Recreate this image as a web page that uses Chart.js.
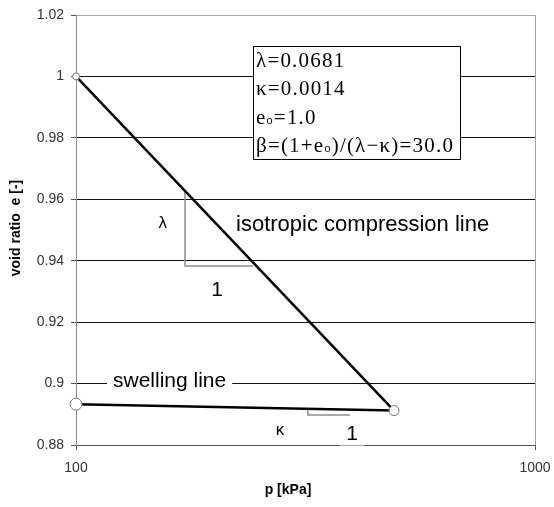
<!DOCTYPE html>
<html>
<head>
<meta charset="utf-8">
<script src="https://cdn.jsdelivr.net/npm/chart.js@4"></script>
<style>
  html, body { margin: 0; padding: 0; background: #fff; }
  #wrap { width: 554px; height: 507px; }
</style>
</head>
<body>
<div id="wrap"><canvas id="chart"></canvas></div>
<script>
// e - log p data: isotropic compression and swelling lines
const pressure = [100, 493];
const compressionE = [1.0, 0.8912];
const swellingE = [0.8933, 0.8912];

// slope triangles (lambda on the compression line, kappa on the swelling line)
const lambdaP = [172.8, 172.8, 243];
const lambdaE = [0.9627, 0.9383, 0.9383];
const kappaP = [320, 320, 395];
const kappaE = [0.8918, 0.8898, 0.8898];

const yTicks = [0.88, 0.9, 0.92, 0.94, 0.96, 0.98, 1.0, 1.02];
const xTicks = [100, 1000];

// parameter box, '°' marks the small subscript ring
const paramLines = ['λ=0.0681', 'κ=0.0014', 'e°=1.0', 'β=(1+e°)/(λ−κ)=30.0'];

const SANS = '"Liberation Sans", Arial, sans-serif';
const SERIF = '"Liberation Serif", "Times New Roman", serif';

const notes = [
  { text: 'isotropic compression line', p: 223.2, e: 0.9516, size: 22, align: 'left' },
  { text: 'swelling line', p: 120.4, e: 0.9008, size: 21, align: 'left', bg: true },
  { text: 'λ', p: 154.6, e: 0.9523, size: 17, align: 'center' },
  { text: '1', p: 202.9, e: 0.9305, size: 21, align: 'center' },
  { text: 'κ', p: 278.2, e: 0.8849, size: 17, align: 'center' },
  { text: '1', p: 399.3, e: 0.8836, size: 21, align: 'center', bg: true }
];
const paramBox = { p0: 243, p1: 686, e0: 1.0099, e1: 0.9731 };

function pts(xs, ys) {
  return xs.map((x, i) => ({ x: x, y: ys[i] }));
}

const annotate = {
  id: 'annotate',
  beforeDatasetsDraw(chart) {
    const ctx = chart.ctx;
    const sx = chart.scales.x, sy = chart.scales.y;
    ctx.save();

    // labels, some on a white patch over the grid
    notes.forEach(n => {
      const x = sx.getPixelForValue(n.p), y = sy.getPixelForValue(n.e);
      ctx.font = n.size + 'px ' + SANS;
      ctx.textAlign = n.align;
      ctx.textBaseline = 'middle';
      if (n.bg) {
        const w = ctx.measureText(n.text).width;
        const left = n.align === 'center' ? x - w / 2 : x;
        ctx.fillStyle = '#fff';
        ctx.fillRect(left - 6, y - n.size * 0.55, w + 12, n.size * 1.1);
      }
      ctx.fillStyle = '#000';
      ctx.fillText(n.text, x, y);
    });

    // parameter box
    const bx0 = sx.getPixelForValue(paramBox.p0), bx1 = sx.getPixelForValue(paramBox.p1);
    const by0 = sy.getPixelForValue(paramBox.e0), by1 = sy.getPixelForValue(paramBox.e1);
    ctx.fillStyle = '#fff';
    ctx.fillRect(bx0, by0, bx1 - bx0, by1 - by0);
    ctx.strokeStyle = '#000';
    ctx.lineWidth = 1;
    ctx.strokeRect(Math.round(bx0) + 0.5, Math.round(by0) + 0.5, Math.round(bx1 - bx0), Math.round(by1 - by0));

    const rowH = (by1 - by0) / paramLines.length;
    ctx.textAlign = 'left';
    ctx.textBaseline = 'alphabetic';
    ctx.fillStyle = '#000';
    ctx.letterSpacing = '1.2px';
    paramLines.forEach((line, i) => {
      let x = bx0 + 3;
      const base = by0 + rowH * (i + 0.5) + 7;
      line.split('°').forEach((part, j) => {
        if (j > 0) {
          ctx.font = '11px ' + SANS;
          ctx.fillText('o', x, base);
          x += ctx.measureText('o').width;
        }
        ctx.font = '21px ' + SERIF;
        ctx.fillText(part, x, base);
        x += ctx.measureText(part).width;
      });
    });
    ctx.letterSpacing = '0px';
    ctx.restore();
  },
  afterDraw(chart) {
    const ctx = chart.ctx;
    ctx.save();
    ctx.fillStyle = '#000';
    ctx.font = 'bold 14px ' + SANS;
    ctx.textAlign = 'center';
    ctx.textBaseline = 'middle';
    ctx.fillText('p [kPa]', 288, 490);
    ctx.translate(16, 228);
    ctx.rotate(-Math.PI / 2);
    ctx.fillText('void ratio  e [-]', 0, 0);
    ctx.restore();
  }
};

new Chart(document.getElementById('chart'), {
  type: 'line',
  data: {
    datasets: [
      {
        label: 'isotropic compression line',
        data: pts(pressure, compressionE),
        borderColor: '#000',
        borderWidth: 2.5,
        pointRadius: [3.5, 5],
        pointBackgroundColor: '#fff',
        pointBorderColor: '#777',
        pointBorderWidth: 1,
        clip: false,
        order: 1
      },
      {
        label: 'swelling line',
        data: pts(pressure, swellingE),
        borderColor: '#000',
        borderWidth: 2.5,
        pointRadius: [6, 0],
        pointBackgroundColor: '#fff',
        pointBorderColor: '#777',
        pointBorderWidth: 1,
        clip: false,
        order: 2
      },
      {
        label: 'lambda',
        data: pts(lambdaP, lambdaE),
        borderColor: '#8c8c8c',
        borderWidth: 1.5,
        pointRadius: 0,
        order: 3
      },
      {
        label: 'kappa',
        data: pts(kappaP, kappaE),
        borderColor: '#8c8c8c',
        borderWidth: 1.5,
        pointRadius: 0,
        order: 3
      }
    ]
  },
  options: {
    responsive: true,
    maintainAspectRatio: false,
    animation: false,
    layout: { padding: { top: 15, right: 19, left: 0, bottom: 0 } },
    plugins: {
      legend: { display: false },
      tooltip: { enabled: false }
    },
    scales: {
      x: {
        type: 'logarithmic',
        min: 100,
        max: 1000,
        afterBuildTicks: axis => { axis.ticks = xTicks.map(v => ({ value: v })); },
        afterFit: axis => {
          axis.height = 62;
          axis.paddingLeft = 0;
          axis.paddingRight = 0;
        },
        ticks: {
          color: '#333',
          font: { family: SANS, size: 14 },
          padding: 10,
          maxRotation: 0,
          callback: v => String(v)
        },
        grid: {
          color: c => c.tick && c.tick.value === 1000 ? '#a0a0a0' : '#888',
          tickColor: '#555',
          tickLength: 5
        },
        border: { color: '#555', width: 1 }
      },
      y: {
        min: 0.88,
        max: 1.02,
        afterBuildTicks: axis => { axis.ticks = yTicks.map(v => ({ value: v })); },
        afterFit: axis => {
          axis.width = 76;
          axis.paddingTop = 0;
          axis.paddingBottom = 0;
        },
        ticks: {
          color: '#333',
          font: { family: SANS, size: 14 },
          padding: 7,
          callback: v => String(+v.toFixed(2))
        },
        grid: {
          color: c => {
            const v = c.tick ? +c.tick.value.toFixed(2) : 0;
            if (v === 1.02) return '#a8a8a8';
            if (v === 0.88) return '#555';
            return '#111';
          },
          tickColor: '#555',
          tickLength: 5
        },
        border: { color: '#888', width: 1 }
      }
    }
  },
  plugins: [annotate]
});
</script>
</body>
</html>
